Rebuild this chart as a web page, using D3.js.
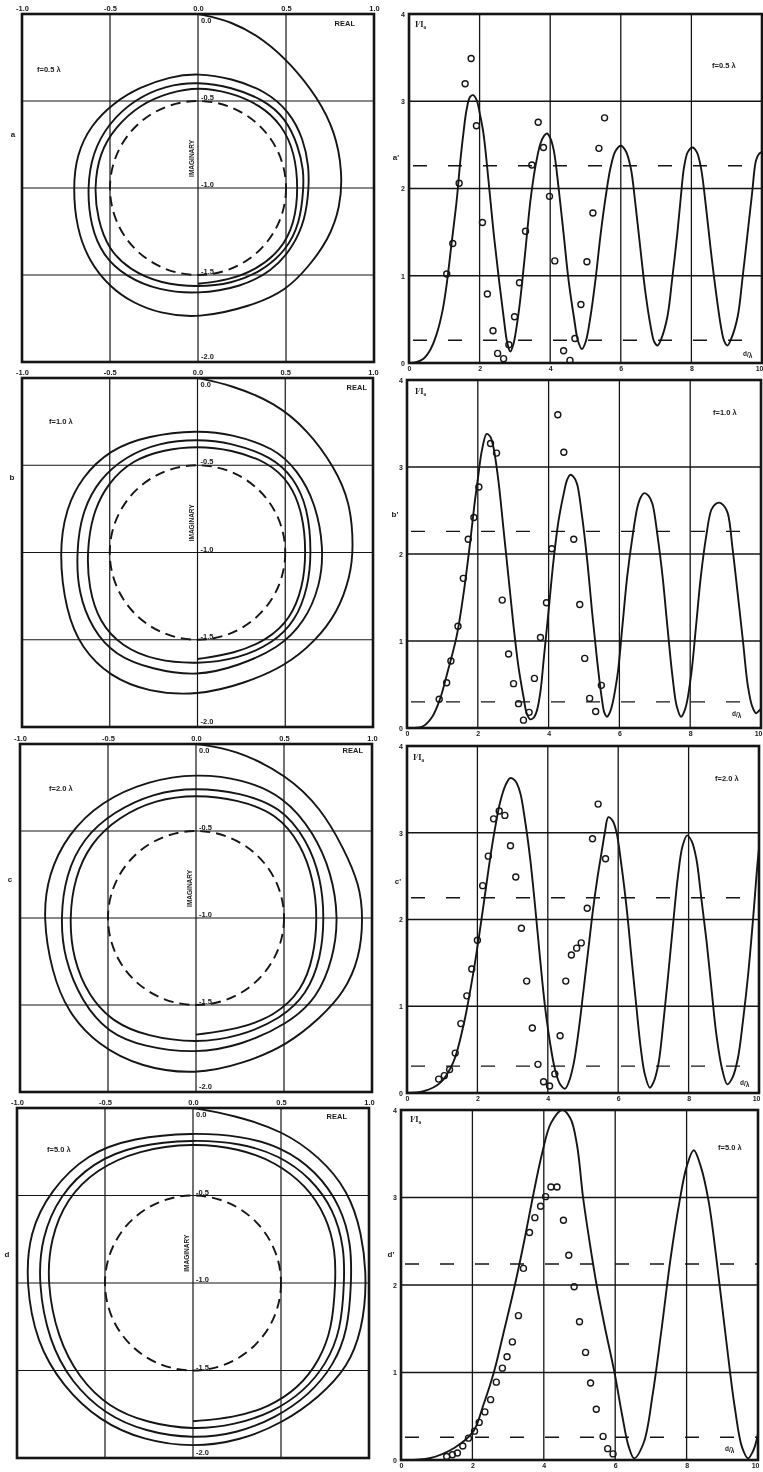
<!DOCTYPE html>
<html>
<head>
<meta charset="utf-8">
<script src="https://cdn.jsdelivr.net/npm/d3@7"></script>
<style>
    body { margin: 0; background: #fff; }
    svg { will-change: transform; }
    svg text { font-family: "Liberation Sans", Arial, sans-serif; font-weight: bold; fill: #1a1a1a; }
</style>
</head>
<body>
<div id="chart"></div>
<script>
/*
    SPIRAL + INTENSITY PANELS (4 rows)
*/

// ---- labels / ticks
const rowLetters = ["a", "b", "c", "d"]
const focusLabels = ["f=0.5 λ", "f=1.0 λ", "f=2.0 λ", "f=5.0 λ"]
const realTicks = [-1, -0.5, 0, 0.5, 1]
const imagTicks = [0, -0.5, -1, -1.5, -2]
const intensityTicks = [0, 1, 2, 3, 4]
const distanceTicks = [0, 2, 4, 6, 8, 10]
// dashed reference levels on the right panels
const refLevels = [[2.26, 0.26], [2.26, 0.30], [2.25, 0.31], [2.24, 0.26]]
// dashed circle in the complex plane
const circleCenter = [0, -1]
const circleRadius = 0.5

// ---- spirals (real, imaginary)
const spiralA = [
    [0, 0], [0.19, -0.04], [0.38, -0.15], [0.53, -0.29], [0.68, -0.48], [0.78, -0.68], [0.82, -0.9], [0.81, -1.11], [0.74, -1.3], [0.63, -1.45], [0.5, -1.59], [0.3, -1.68], [0, -1.75], [-0.22, -1.72], [-0.37, -1.66], [-0.5, -1.57], [-0.62, -1.42], [-0.69, -1.23], [-0.71, -1.0], [-0.69, -0.81], [-0.61, -0.64], [-0.48, -0.51], [-0.33, -0.42], [-0.16, -0.36], [0, -0.34],
    [0.19, -0.37], [0.38, -0.44], [0.52, -0.56], [0.6, -0.72], [0.63, -0.88], [0.63, -1.0], [0.61, -1.18], [0.54, -1.34], [0.42, -1.48], [0.24, -1.57], [0, -1.61], [-0.22, -1.59], [-0.41, -1.51], [-0.54, -1.39], [-0.61, -1.22], [-0.63, -1.0], [-0.6, -0.8], [-0.51, -0.63], [-0.36, -0.49], [-0.18, -0.41], [0, -0.39],
    [0.19, -0.42], [0.37, -0.49], [0.5, -0.6], [0.57, -0.76], [0.6, -0.9], [0.6, -1.0], [0.58, -1.2], [0.5, -1.36], [0.36, -1.48], [0.19, -1.55], [0, -1.57], [-0.21, -1.55], [-0.39, -1.47], [-0.51, -1.35], [-0.57, -1.18], [-0.59, -1.0], [-0.56, -0.8], [-0.47, -0.65], [-0.33, -0.52], [-0.16, -0.45], [0, -0.42],
    [0.18, -0.45], [0.35, -0.52], [0.48, -0.64], [0.55, -0.8], [0.57, -1.0], [0.55, -1.2], [0.47, -1.36], [0.33, -1.47], [0.17, -1.53], [0, -1.55]
]
const spiralB = [
    [0, 0], [0.19, -0.04], [0.44, -0.14], [0.63, -0.3], [0.78, -0.51], [0.87, -0.71], [0.89, -0.97], [0.87, -1.14], [0.8, -1.34], [0.67, -1.51], [0.5, -1.65], [0.27, -1.75], [0, -1.82], [-0.28, -1.8], [-0.5, -1.71], [-0.66, -1.55], [-0.75, -1.34], [-0.79, -1.0], [-0.75, -0.75], [-0.66, -0.57], [-0.5, -0.41], [-0.28, -0.33], [0, -0.3],
    [0.19, -0.32], [0.44, -0.4], [0.57, -0.53], [0.67, -0.71], [0.72, -0.97], [0.7, -1.19], [0.61, -1.4], [0.46, -1.55], [0.23, -1.65], [0, -1.71], [-0.26, -1.67], [-0.47, -1.59], [-0.6, -1.44], [-0.68, -1.23], [-0.69, -1.0], [-0.66, -0.77], [-0.56, -0.58], [-0.41, -0.45], [-0.22, -0.37], [0, -0.35],
    [0.19, -0.37], [0.42, -0.45], [0.55, -0.57], [0.63, -0.75], [0.65, -1.0], [0.63, -1.2], [0.56, -1.39], [0.43, -1.52], [0.23, -1.61], [0, -1.64], [-0.24, -1.62], [-0.43, -1.54], [-0.56, -1.4], [-0.62, -1.2], [-0.63, -1.0], [-0.6, -0.78], [-0.51, -0.6], [-0.37, -0.47], [-0.19, -0.41], [0, -0.39],
    [0.19, -0.41], [0.4, -0.48], [0.53, -0.6], [0.6, -0.78], [0.62, -1.0], [0.6, -1.2], [0.53, -1.38], [0.4, -1.5], [0.21, -1.58], [0, -1.61]
]
const spiralC = [
    [0, 0], [0.22, -0.03], [0.52, -0.18], [0.71, -0.37], [0.84, -0.6], [0.93, -0.81], [0.95, -1.0], [0.93, -1.23], [0.84, -1.43], [0.71, -1.57], [0.52, -1.73], [0.26, -1.84], [0, -1.9], [-0.31, -1.86], [-0.56, -1.73], [-0.73, -1.54], [-0.82, -1.31], [-0.87, -1.0], [-0.84, -0.75], [-0.73, -0.52], [-0.54, -0.33], [-0.27, -0.21], [0, -0.17],
    [0.26, -0.2], [0.5, -0.3], [0.67, -0.51], [0.77, -0.74], [0.81, -1.0], [0.78, -1.23], [0.69, -1.46], [0.52, -1.61], [0.26, -1.73], [0, -1.78], [-0.3, -1.74], [-0.5, -1.66], [-0.65, -1.48], [-0.75, -1.23], [-0.77, -1.0], [-0.74, -0.75], [-0.64, -0.54], [-0.47, -0.39], [-0.24, -0.28], [0, -0.25],
    [0.25, -0.28], [0.48, -0.36], [0.63, -0.55], [0.71, -0.77], [0.73, -1.0], [0.71, -1.23], [0.63, -1.44], [0.48, -1.58], [0.25, -1.68], [0, -1.72], [-0.28, -1.68], [-0.47, -1.6], [-0.61, -1.45], [-0.7, -1.23], [-0.72, -1.0], [-0.69, -0.77], [-0.6, -0.57], [-0.44, -0.42], [-0.23, -0.32], [0, -0.29],
    [0.24, -0.32], [0.46, -0.4], [0.6, -0.58], [0.67, -0.79], [0.69, -1.0], [0.67, -1.22], [0.6, -1.42], [0.45, -1.56], [0.24, -1.64], [0, -1.67]
]
const spiralD = [
    [0, 0], [0.23, -0.04], [0.51, -0.13], [0.72, -0.28], [0.88, -0.47], [0.96, -0.71], [0.99, -1.0], [0.96, -1.27], [0.88, -1.48], [0.72, -1.65], [0.51, -1.8], [0.27, -1.9], [0, -1.94], [-0.28, -1.9], [-0.53, -1.79], [-0.74, -1.59], [-0.89, -1.34], [-0.95, -1.0], [-0.93, -0.71], [-0.81, -0.47], [-0.6, -0.26], [-0.34, -0.17], [0, -0.14],
    [0.27, -0.16], [0.5, -0.22], [0.7, -0.36], [0.84, -0.56], [0.9, -0.78], [0.9, -1.0], [0.88, -1.27], [0.8, -1.47], [0.66, -1.64], [0.47, -1.77], [0.25, -1.86], [0, -1.89], [-0.27, -1.85], [-0.5, -1.75], [-0.69, -1.57], [-0.82, -1.33], [-0.88, -1.0], [-0.86, -0.74], [-0.76, -0.5], [-0.57, -0.31], [-0.32, -0.21], [0, -0.18],
    [0.27, -0.2], [0.49, -0.27], [0.67, -0.4], [0.8, -0.58], [0.86, -0.8], [0.86, -1.0], [0.84, -1.27], [0.76, -1.46], [0.63, -1.62], [0.45, -1.74], [0.24, -1.81], [0, -1.84], [-0.26, -1.8], [-0.48, -1.71], [-0.65, -1.54], [-0.77, -1.31], [-0.83, -1.0], [-0.81, -0.75], [-0.72, -0.52], [-0.55, -0.35], [-0.31, -0.24], [0, -0.2],
    [0.26, -0.23], [0.47, -0.31], [0.64, -0.44], [0.76, -0.62], [0.81, -0.82], [0.81, -1.0], [0.79, -1.26], [0.72, -1.44], [0.6, -1.6], [0.43, -1.71], [0.23, -1.77], [0, -1.79]
]

// ---- theoretical intensity curves (d/λ, I/I0)
const curveA = [[0, 0], [0.2, 0.01], [0.41, 0.05], [0.6, 0.15], [0.79, 0.34], [0.95, 0.6], [1.07, 0.91], [1.2, 1.35], [1.35, 1.86], [1.45, 2.3], [1.54, 2.63], [1.63, 2.9], [1.73, 3.05], [1.82, 3.07], [1.92, 3.01], [2.01, 2.85], [2.11, 2.63], [2.25, 2.1], [2.4, 1.48], [2.55, 0.95], [2.68, 0.53], [2.78, 0.24], [2.87, 0.13], [2.96, 0.22], [3.05, 0.42], [3.15, 0.72], [3.3, 1.3], [3.44, 1.86], [3.58, 2.25], [3.72, 2.51], [3.82, 2.6], [3.91, 2.63], [4.0, 2.58], [4.1, 2.44], [4.24, 2.0], [4.38, 1.48], [4.52, 0.95], [4.67, 0.53], [4.79, 0.25], [4.9, 0.16], [5.01, 0.25], [5.14, 0.53], [5.29, 0.98], [5.43, 1.48], [5.57, 1.9], [5.71, 2.24], [5.85, 2.43], [6.0, 2.49], [6.14, 2.43], [6.28, 2.24], [6.42, 1.8], [6.56, 1.29], [6.7, 0.8], [6.85, 0.41], [6.95, 0.24], [7.04, 0.2], [7.14, 0.27], [7.32, 0.53], [7.46, 0.98], [7.6, 1.48], [7.7, 1.9], [7.79, 2.24], [7.9, 2.42], [8.03, 2.47], [8.15, 2.42], [8.27, 2.24], [8.41, 1.8], [8.55, 1.29], [8.7, 0.8], [8.84, 0.41], [8.93, 0.25], [9.02, 0.2], [9.12, 0.27], [9.31, 0.53], [9.45, 0.98], [9.59, 1.48], [9.72, 1.95], [9.83, 2.32], [9.92, 2.4], [10.0, 2.42]]
const curveB = [[0, 0], [0.45, 0.02], [0.7, 0.12], [0.93, 0.33], [1.15, 0.65], [1.4, 1.05], [1.6, 1.55], [1.78, 2.12], [1.9, 2.55], [2.01, 2.89], [2.12, 3.2], [2.25, 3.38], [2.35, 3.35], [2.44, 3.23], [2.58, 2.85], [2.72, 2.31], [2.87, 1.72], [3.01, 1.17], [3.15, 0.7], [3.29, 0.36], [3.38, 0.17], [3.48, 0.1], [3.58, 0.12], [3.67, 0.2], [3.77, 0.42], [3.86, 0.78], [4.0, 1.35], [4.14, 1.93], [4.28, 2.38], [4.43, 2.7], [4.52, 2.85], [4.61, 2.91], [4.7, 2.89], [4.8, 2.81], [4.94, 2.45], [5.09, 1.93], [5.23, 1.33], [5.37, 0.78], [5.5, 0.35], [5.58, 0.17], [5.65, 0.13], [5.75, 0.2], [5.94, 0.59], [6.08, 1.15], [6.22, 1.74], [6.37, 2.2], [6.51, 2.54], [6.6, 2.65], [6.7, 2.7], [6.82, 2.67], [6.93, 2.58], [7.08, 2.2], [7.22, 1.74], [7.36, 1.15], [7.5, 0.59], [7.62, 0.25], [7.74, 0.13], [7.86, 0.22], [8.02, 0.59], [8.16, 1.15], [8.3, 1.74], [8.45, 2.2], [8.59, 2.5], [8.7, 2.57], [8.82, 2.59], [8.94, 2.56], [9.06, 2.47], [9.2, 2.05], [9.34, 1.55], [9.49, 1.0], [9.63, 0.48], [9.75, 0.25], [9.86, 0.17], [9.95, 0.2], [10.05, 0.25]]
const curveC = [[0, 0], [0.47, 0.02], [0.95, 0.12], [1.32, 0.36], [1.61, 0.79], [1.89, 1.4], [2.08, 1.9], [2.22, 2.3], [2.36, 2.7], [2.5, 3.05], [2.65, 3.36], [2.8, 3.55], [2.93, 3.63], [3.07, 3.6], [3.21, 3.47], [3.35, 3.15], [3.5, 2.7], [3.64, 2.15], [3.78, 1.55], [3.92, 1.0], [4.06, 0.59], [4.2, 0.28], [4.35, 0.1], [4.49, 0.05], [4.6, 0.13], [4.73, 0.33], [4.87, 0.7], [5.01, 1.17], [5.15, 1.65], [5.29, 2.13], [5.41, 2.48], [5.53, 2.78], [5.62, 3.0], [5.72, 3.18], [5.84, 3.14], [5.95, 3.01], [6.1, 2.6], [6.24, 2.13], [6.38, 1.55], [6.52, 0.98], [6.64, 0.52], [6.76, 0.21], [6.9, 0.06], [7.0, 0.12], [7.14, 0.33], [7.28, 0.8], [7.42, 1.36], [7.56, 1.95], [7.7, 2.51], [7.83, 2.85], [7.96, 2.97], [8.09, 2.9], [8.22, 2.7], [8.36, 2.25], [8.51, 1.75], [8.65, 1.2], [8.79, 0.67], [8.95, 0.28], [9.1, 0.1], [9.25, 0.18], [9.4, 0.4], [9.55, 0.85], [9.69, 1.36], [9.83, 2.0], [9.97, 2.7], [10.05, 3.0]]
const curveD = [[0, 0], [0.8, 0.02], [1.5, 0.14], [2.03, 0.33], [2.3, 0.62], [2.6, 1.0], [2.9, 1.5], [3.19, 2.0], [3.45, 2.5], [3.69, 3.0], [3.95, 3.5], [4.2, 3.85], [4.52, 4.0], [4.75, 3.9], [4.93, 3.6], [5.1, 3.0], [5.28, 2.5], [5.48, 2.0], [5.72, 1.5], [5.98, 1.0], [6.2, 0.5], [6.38, 0.15], [6.53, 0.02], [6.8, 0.2], [7.05, 0.75], [7.3, 1.5], [7.55, 2.3], [7.8, 2.95], [8.0, 3.35], [8.2, 3.54], [8.4, 3.35], [8.62, 2.95], [8.85, 2.25], [9.1, 1.4], [9.35, 0.6], [9.55, 0.15], [9.72, 0.02], [9.88, 0.12], [10.0, 0.3]]

// ---- measured points (d/λ, I/I0)
const pointsA = [[1.07, 1.02], [1.24, 1.37], [1.42, 2.06], [1.59, 3.2], [1.76, 3.49], [1.91, 2.72], [2.08, 1.61], [2.22, 0.79], [2.38, 0.37], [2.51, 0.11], [2.68, 0.05], [2.83, 0.21], [2.99, 0.53], [3.13, 0.92], [3.3, 1.51], [3.48, 2.27], [3.66, 2.76], [3.81, 2.47], [3.98, 1.91], [4.13, 1.17], [4.38, 0.14], [4.56, 0.03], [4.7, 0.28], [4.87, 0.67], [5.04, 1.16], [5.21, 1.72], [5.38, 2.46], [5.54, 2.81]]
const pointsB = [[0.91, 0.33], [1.12, 0.52], [1.24, 0.77], [1.44, 1.17], [1.59, 1.72], [1.73, 2.17], [1.89, 2.42], [2.03, 2.77], [2.36, 3.27], [2.53, 3.16], [2.69, 1.47], [2.87, 0.85], [3.01, 0.51], [3.15, 0.28], [3.29, 0.09], [3.45, 0.18], [3.6, 0.57], [3.77, 1.04], [3.94, 1.44], [4.09, 2.06], [4.26, 3.6], [4.43, 3.17], [4.71, 2.17], [4.88, 1.42], [5.02, 0.8], [5.16, 0.34], [5.33, 0.19], [5.49, 0.49]]
const pointsC = [[0.9, 0.16], [1.06, 0.2], [1.21, 0.27], [1.37, 0.46], [1.53, 0.8], [1.7, 1.12], [1.84, 1.43], [2.0, 1.76], [2.15, 2.39], [2.31, 2.73], [2.46, 3.16], [2.62, 3.25], [2.78, 3.2], [2.94, 2.85], [3.09, 2.49], [3.25, 1.9], [3.4, 1.29], [3.56, 0.75], [3.72, 0.33], [3.88, 0.13], [4.05, 0.08], [4.2, 0.22], [4.35, 0.66], [4.51, 1.29], [4.67, 1.59], [4.82, 1.67], [4.95, 1.73], [5.12, 2.13], [5.27, 2.93], [5.43, 3.33], [5.64, 2.7]]
const pointsD = [[1.28, 0.04], [1.44, 0.06], [1.58, 0.08], [1.73, 0.16], [1.89, 0.25], [2.06, 0.33], [2.19, 0.43], [2.35, 0.55], [2.51, 0.69], [2.67, 0.89], [2.84, 1.05], [2.97, 1.18], [3.12, 1.35], [3.29, 1.65], [3.43, 2.19], [3.6, 2.6], [3.75, 2.77], [3.91, 2.9], [4.05, 3.01], [4.2, 3.12], [4.37, 3.12], [4.55, 2.74], [4.7, 2.34], [4.85, 1.98], [5.0, 1.58], [5.17, 1.23], [5.31, 0.88], [5.47, 0.58], [5.66, 0.27], [5.79, 0.13], [5.94, 0.07]]

const spirals = [spiralA, spiralB, spiralC, spiralD]
const curves = [curveA, curveB, curveC, curveD]
const points = [pointsA, pointsB, pointsC, pointsD]

// ---- page layout (pixel boxes [x0, x1, y0, y1] and label anchors)
const layout = [
    { L: [22, 374, 14, 362], R: [409, 762, 14, 363], letter: [13, 137], fL: [37, 72], real: [355, 26], fR: [712, 68], ii: [415, 27], dl: [743, 358], prime: [396, 160] },
    { L: [22, 373, 378, 727], R: [407, 761, 380, 728], letter: [12, 480], fL: [49, 424], real: [367, 390], fR: [713, 415], ii: [415, 394], dl: [732, 718], prime: [395, 517] },
    { L: [20, 372, 744, 1092], R: [407, 759, 746, 1093], letter: [10, 882], fL: [49, 791], real: [363, 753], fR: [715, 781], ii: [413, 760], dl: [740, 1087], prime: [398, 884] },
    { L: [17, 369, 1108, 1458], R: [401, 758, 1110, 1460], letter: [7, 1257], fL: [47, 1152], real: [347, 1119], fR: [718, 1150], ii: [410, 1122], dl: [725, 1453], prime: [391, 1257] }
]

const width = 763, height = 1472
const ink = "#151515"

const svg = d3.select("#chart").append("svg")
    .attr("width", width)
    .attr("height", height)
    .style("background", "#fff")

const drawSpiralPanel = (i) => {
    const g = layout[i]
    const [x0, x1, y0, y1] = g.L
    const x = d3.scaleLinear().domain([-1, 1]).range([x0, x1])
    const y = d3.scaleLinear().domain([0, -2]).range([y0, y1])
    const p = svg.append("g")

    // grid
    p.append("g").selectAll("line")
        .data(realTicks.slice(1, -1))
        .join("line")
        .attr("x1", d => x(d)).attr("x2", d => x(d))
        .attr("y1", y0).attr("y2", y1)
        .attr("stroke", ink).attr("stroke-width", 1.2)
    p.append("g").selectAll("line")
        .data(imagTicks.slice(1, -1))
        .join("line")
        .attr("y1", d => y(d)).attr("y2", d => y(d))
        .attr("x1", x0).attr("x2", x1)
        .attr("stroke", ink).attr("stroke-width", 1.2)

    // frame
    p.append("rect")
        .attr("x", x0).attr("y", y0)
        .attr("width", x1 - x0).attr("height", y1 - y0)
        .attr("fill", "none").attr("stroke", ink).attr("stroke-width", 2.6)

    // top tick labels
    const xAxis = gg => gg
        .attr("transform", `translate(0,${y0 - 2})`)
        .call(d3.axisTop(x).tickValues(realTicks).tickSize(0).tickPadding(1).tickFormat(d => d.toFixed(1)))
        .call(gg => gg.select(".domain").remove())
        .call(gg => gg.selectAll("text")
            .attr("font-size", 7.5).attr("font-family", null).attr("fill", ink))
    p.append("g").call(xAxis)

    // imaginary-axis labels beside x = 0
    p.append("g").selectAll("text")
        .data(imagTicks)
        .join("text")
        .attr("x", x(0) + 3)
        .attr("y", d => d === 0 ? y(d) + 9 : (d === -2 ? y(d) - 3 : y(d) - 1))
        .attr("font-size", 7.5)
        .text(d => d.toFixed(1))

    p.append("text")
        .attr("transform", `translate(${x(0) - 4},${y(-0.83)}) rotate(-90)`)
        .attr("text-anchor", "middle")
        .attr("font-size", 6.5)
        .text("IMAGINARY")

    p.append("text")
        .attr("x", g.real[0]).attr("y", g.real[1])
        .attr("text-anchor", "end").attr("font-size", 7.5)
        .text("REAL")

    p.append("text")
        .attr("x", g.fL[0]).attr("y", g.fL[1])
        .attr("font-size", 7.5)
        .text(focusLabels[i])

    svg.append("text")
        .attr("x", g.letter[0]).attr("y", g.letter[1])
        .attr("text-anchor", "middle").attr("font-size", 8)
        .text(rowLetters[i])

    // dashed reference circle
    p.append("ellipse")
        .attr("cx", x(circleCenter[0])).attr("cy", y(circleCenter[1]))
        .attr("rx", x(circleRadius) - x(0)).attr("ry", y(circleCenter[1] - circleRadius) - y(circleCenter[1]))
        .attr("fill", "none").attr("stroke", ink).attr("stroke-width", 1.9)
        .attr("stroke-dasharray", "10,6")

    // spiral (B-spline smooths the hand-read points)
    const line = d3.line()
        .x(d => x(d[0]))
        .y(d => y(d[1]))
        .curve(d3.curveBasis)
    p.append("path")
        .datum(spirals[i])
        .attr("d", line)
        .attr("fill", "none").attr("stroke", ink).attr("stroke-width", 1.9)
}

const drawIntensityPanel = (i) => {
    const g = layout[i]
    const [x0, x1, y0, y1] = g.R
    const x = d3.scaleLinear().domain([0, 10]).range([x0, x1])
    const y = d3.scaleLinear().domain([0, 4]).range([y1, y0])
    const p = svg.append("g")

    const clipId = "clip-r" + i
    p.append("clipPath").attr("id", clipId)
        .append("rect")
        .attr("x", x0).attr("y", y0)
        .attr("width", x1 - x0).attr("height", y1 - y0)

    // grid
    p.append("g").selectAll("line")
        .data(distanceTicks.slice(1, -1))
        .join("line")
        .attr("x1", d => x(d)).attr("x2", d => x(d))
        .attr("y1", y0).attr("y2", y1)
        .attr("stroke", ink).attr("stroke-width", 1.3)
    p.append("g").selectAll("line")
        .data(intensityTicks.slice(1, -1))
        .join("line")
        .attr("y1", d => y(d)).attr("y2", d => y(d))
        .attr("x1", x0).attr("x2", x1)
        .attr("stroke", ink).attr("stroke-width", 1.3)

    // dashed reference levels
    p.append("g").selectAll("line")
        .data(refLevels[i])
        .join("line")
        .attr("y1", d => y(d)).attr("y2", d => y(d))
        .attr("x1", x0 + 4).attr("x2", x1)
        .attr("stroke", ink).attr("stroke-width", 1.4)
        .attr("stroke-dasharray", "14,21")

    // frame
    p.append("rect")
        .attr("x", x0).attr("y", y0)
        .attr("width", x1 - x0).attr("height", y1 - y0)
        .attr("fill", "none").attr("stroke", ink).attr("stroke-width", 2.6)

    const yAxis = gg => gg
        .attr("transform", `translate(${x0 - 2},0)`)
        .call(d3.axisLeft(y).tickValues(intensityTicks).tickSize(0).tickPadding(2).tickFormat(d3.format("d")))
        .call(gg => gg.select(".domain").remove())
        .call(gg => gg.selectAll("text")
            .attr("font-size", 7).attr("font-family", null).attr("fill", ink))
    const xAxis = gg => gg
        .attr("transform", `translate(0,${y1 + 1})`)
        .call(d3.axisBottom(x).tickValues(distanceTicks).tickSize(0).tickPadding(2).tickFormat(d3.format("d")))
        .call(gg => gg.select(".domain").remove())
        .call(gg => gg.selectAll("text")
            .attr("font-size", 7).attr("font-family", null).attr("fill", ink)
            .attr("text-anchor", d => d === 10 ? "end" : "middle")
            .attr("dx", d => d === 10 ? 1 : 0))
    p.append("g").call(yAxis)
    p.append("g").call(xAxis)

    // labels
    const ii = p.append("text")
        .attr("x", g.ii[0]).attr("y", g.ii[1])
        .attr("font-size", 8.5)
        .style("font-family", "'Liberation Serif', serif")
    ii.append("tspan").text("I")
    ii.append("tspan").attr("font-size", 7).attr("dy", -2).text("/")
    ii.append("tspan").attr("dy", 2).text("I")
    ii.append("tspan").attr("font-size", 5.5).attr("dy", 1.5).text("o")

    const dl = p.append("text")
        .attr("x", g.dl[0]).attr("y", g.dl[1])
        .attr("font-size", 6.5)
    dl.append("tspan").attr("dy", -2).text("d")
    dl.append("tspan").attr("dy", 1).text("/")
    dl.append("tspan").attr("dy", 1).text("λ")

    p.append("text")
        .attr("x", g.fR[0]).attr("y", g.fR[1])
        .attr("font-size", 7.5)
        .text(focusLabels[i])

    svg.append("text")
        .attr("x", g.prime[0]).attr("y", g.prime[1])
        .attr("text-anchor", "middle").attr("font-size", 8)
        .text(rowLetters[i] + "'")

    // theory curve
    const line = d3.line()
        .x(d => x(d[0]))
        .y(d => y(d[1]))
        .curve(d3.curveCatmullRom.alpha(0.5))
    p.append("path")
        .datum(curves[i])
        .attr("clip-path", `url(#${clipId})`)
        .attr("d", line)
        .attr("fill", "none").attr("stroke", ink).attr("stroke-width", 1.9)

    // measured points
    p.append("g").selectAll("circle")
        .data(points[i])
        .join("circle")
        .attr("cx", d => x(d[0]))
        .attr("cy", d => y(d[1]))
        .attr("r", 3)
        .attr("fill", "none")
        .attr("stroke", ink)
        .attr("stroke-width", 1.4)
}

for (let i = 0; i < 4; i++) {
    drawSpiralPanel(i)
    drawIntensityPanel(i)
}
</script>
</body>
</html>
